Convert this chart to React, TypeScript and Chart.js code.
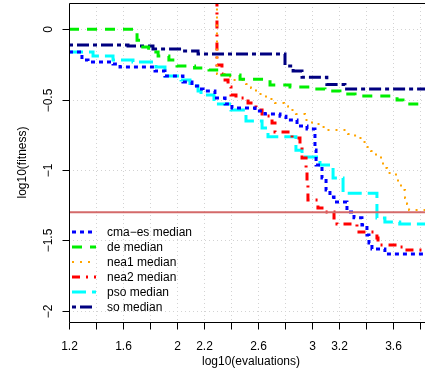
import React, { useEffect, useRef } from 'react';
import { Chart, registerables } from 'chart.js';

Chart.register(...registerables);

// ---- axis ranges and ticks ----
const X_MIN = 1.2;
const X_MAX = 3.837;
const Y_MIN = -2.08;
const Y_MAX = 0.187;

const xTicks = [1.2, 1.4, 1.6, 1.8, 2.0, 2.2, 2.4, 2.6, 2.8, 3.0, 3.2, 3.4, 3.6, 3.8];
const xTickLabels = ['1.2', '', '1.6', '', '2', '2.2', '', '2.6', '', '3', '3.2', '', '3.6', ''];
const yTicks = [0, -0.5, -1, -1.5, -2];
const yTickLabels = ['0', '\u22120.5', '\u22121', '\u22121.5', '\u22122'];
const thresholdY = -1.3;

const xTitle = 'log10(evaluations)';
const yTitle = 'log10(fitness)';

// ---- series (step medians) ----
const cmaesX = [1.2, 1.296, 1.341, 1.526, 1.578, 1.837, 1.911, 2.044, 2.111, 2.163, 2.193, 2.281, 2.356, 2.407, 2.578, 2.652, 2.763, 2.807, 2.889, 2.963, 3.022, 3.03, 3.074, 3.104, 3.133, 3.163, 3.259, 3.311, 3.37, 3.407, 3.422, 3.444, 3.54, 3.84];
const cmaesY = [-0.161, -0.218, -0.232, -0.247, -0.268, -0.296, -0.332, -0.375, -0.403, -0.424, -0.439, -0.488, -0.531, -0.559, -0.581, -0.602, -0.617, -0.645, -0.687, -0.709, -0.857, -0.964, -1.057, -1.142, -1.192, -1.227, -1.298, -1.34, -1.39, -1.462, -1.518, -1.561, -1.597, -1.597];

const deX = [1.2, 1.704, 1.73, 1.79, 1.86, 1.94, 2.0, 2.13, 2.237, 2.333, 2.467, 2.689, 2.837, 3.0, 3.096, 3.207, 3.319, 3.6, 3.63, 3.674, 3.84];
const deY = [0, -0.078, -0.126, -0.161, -0.19, -0.218, -0.26, -0.275, -0.29, -0.325, -0.355, -0.396, -0.41, -0.424, -0.439, -0.46, -0.474, -0.482, -0.503, -0.531, -0.531];

const nea1X = [2.296, 2.296, 2.393, 2.511, 2.548, 2.585, 2.659, 2.726, 2.793, 2.822, 2.881, 2.948, 3.0, 3.059, 3.111, 3.267, 3.319, 3.37, 3.4, 3.437, 3.474, 3.511, 3.526, 3.556, 3.622, 3.637, 3.659, 3.689, 3.704, 3.719, 3.84];
const nea1Y = [1.0, -0.318, -0.36, -0.389, -0.417, -0.46, -0.496, -0.524, -0.546, -0.574, -0.602, -0.645, -0.673, -0.694, -0.716, -0.744, -0.773, -0.801, -0.836, -0.865, -0.9, -0.936, -0.986, -1.021, -1.043, -1.1, -1.142, -1.199, -1.241, -1.284, -1.284];

const nea2X = [2.296, 2.296, 2.333, 2.356, 2.378, 2.4, 2.437, 2.526, 2.585, 2.6, 2.63, 2.704, 2.726, 2.852, 2.911, 2.926, 2.956, 2.963, 2.97, 3.044, 3.074, 3.163, 3.185, 3.333, 3.481, 3.489, 3.615, 3.689, 3.84];
const nea2Y = [1.0, -0.254, -0.318, -0.36, -0.41, -0.467, -0.488, -0.524, -0.552, -0.574, -0.616, -0.666, -0.73, -0.773, -0.837, -0.915, -0.986, -1.107, -1.213, -1.27, -1.298, -1.341, -1.384, -1.441, -1.483, -1.533, -1.547, -1.569, -1.569];

const psoX = [1.2, 1.378, 1.526, 1.674, 1.844, 1.911, 2.03, 2.096, 2.156, 2.178, 2.274, 2.4, 2.511, 2.63, 2.674, 2.881, 2.926, 3.059, 3.156, 3.23, 3.481, 3.54, 3.65, 3.84];
const psoY = [-0.161, -0.19, -0.218, -0.232, -0.268, -0.332, -0.36, -0.403, -0.439, -0.467, -0.531, -0.574, -0.652, -0.701, -0.763, -0.86, -0.907, -0.964, -1.057, -1.165, -1.341, -1.37, -1.384, -1.384];

const soX = [1.2, 1.637, 1.822, 2.037, 2.156, 2.8, 2.86, 2.926, 3.11, 3.244, 3.84];
const soY = [-0.112, -0.119, -0.14, -0.154, -0.176, -0.26, -0.296, -0.34, -0.392, -0.424, -0.424];

const seriesNames = ['cma\u2212es median', 'de median', 'nea1 median', 'nea2 median', 'pso median', 'so median'];
const seriesXs = [cmaesX, deX, nea1X, nea2X, psoX, soX];
const seriesYs = [cmaesY, deY, nea1Y, nea2Y, psoY, soY];

// ---- styles ----
const seriesColors = ['#0000FF', '#00EE00', '#FFA500', '#FF0000', '#00FFFF', '#000080'];
const seriesDashes = [[4, 4], [10, 8], [2, 6], [8, 6, 2, 6], [14, 6], [4, 4, 12, 4]];
const seriesWidths = [3, 3, 2, 3, 3, 3];

const FONT = '12px "Liberation Sans", Arial, Helvetica, sans-serif';

const rPlotPlugin = {
  id: 'rPlot',
  beforeDatasetsDraw(chart: any) {
    const { ctx, chartArea: a, scales } = chart;
    const xs = scales.x;
    const ys = scales.y;
    ctx.save();
    ctx.strokeStyle = '#D3D3D3';
    ctx.lineWidth = 1;
    ctx.setLineDash([1, 3]);
    xTicks.forEach((v) => {
      const px = Math.round(xs.getPixelForValue(v)) + 0.5;
      ctx.beginPath();
      ctx.moveTo(px, a.top);
      ctx.lineTo(px, a.bottom);
      ctx.stroke();
    });
    yTicks.forEach((v) => {
      const py = Math.round(ys.getPixelForValue(v)) + 0.5;
      ctx.beginPath();
      ctx.moveTo(a.left, py);
      ctx.lineTo(a.right, py);
      ctx.stroke();
    });
    ctx.restore();
  },
  afterDraw(chart: any) {
    const { ctx, chartArea: a, scales } = chart;
    const xs = scales.x;
    const ys = scales.y;
    ctx.save();
    ctx.setLineDash([]);
    ctx.strokeStyle = '#000';
    ctx.lineWidth = 1;
    const L = Math.round(a.left) + 0.5;
    const T = Math.round(a.top) + 0.5;
    const B = Math.round(a.bottom) + 0.5;
    ctx.beginPath();
    ctx.moveTo(a.right + 5, T);
    ctx.lineTo(L, T);
    ctx.lineTo(L, B);
    ctx.lineTo(a.right + 5, B);
    ctx.stroke();

    ctx.fillStyle = '#000';
    ctx.font = FONT;
    // x ticks
    ctx.textAlign = 'center';
    ctx.textBaseline = 'alphabetic';
    xTicks.forEach((v, i) => {
      const px = Math.round(xs.getPixelForValue(v)) + 0.5;
      ctx.beginPath();
      ctx.moveTo(px, B);
      ctx.lineTo(px, B + 7);
      ctx.stroke();
      if (xTickLabels[i]) ctx.fillText(xTickLabels[i], px, a.bottom + 28);
    });
    // y ticks
    yTicks.forEach((v, i) => {
      const py = Math.round(ys.getPixelForValue(v)) + 0.5;
      ctx.beginPath();
      ctx.moveTo(L, py);
      ctx.lineTo(L - 7, py);
      ctx.stroke();
      ctx.save();
      ctx.translate(a.left - 17, py);
      ctx.rotate(-Math.PI / 2);
      ctx.textAlign = 'center';
      ctx.fillText(yTickLabels[i], 0, 0);
      ctx.restore();
    });
    // titles
    ctx.textAlign = 'center';
    ctx.fillText(xTitle, 251, a.bottom + 43);
    ctx.save();
    ctx.translate(26, (a.top + a.bottom) / 2);
    ctx.rotate(-Math.PI / 2);
    ctx.fillText(yTitle, 0, 0);
    ctx.restore();

    // legend
    ctx.textAlign = 'left';
    ctx.textBaseline = 'middle';
    seriesNames.forEach((name, i) => {
      const yy = 232 + i * 15;
      ctx.save();
      ctx.strokeStyle = seriesColors[i];
      ctx.lineWidth = seriesWidths[i];
      ctx.setLineDash(seriesDashes[i]);
      ctx.beginPath();
      ctx.moveTo(a.left + 3, yy);
      ctx.lineTo(a.left + 27, yy);
      ctx.stroke();
      ctx.restore();
      ctx.fillStyle = '#000';
      ctx.fillText(name, a.left + 38, yy + 1);
    });
    ctx.restore();
  },
};

export default function App() {
  const ref = useRef<HTMLCanvasElement | null>(null);
  useEffect(() => {
    document.body.style.margin = '0';
    if (!ref.current) return;
    const datasets: any[] = seriesNames.map((name, i) => ({
      label: name,
      data: seriesXs[i].map((x, j) => ({ x, y: seriesYs[i][j] })),
      borderColor: seriesColors[i],
      borderWidth: seriesWidths[i],
      borderDash: seriesDashes[i],
      stepped: 'before',
      pointRadius: 0,
      fill: false,
      tension: 0,
      order: i + 1,
    }));
    datasets.push({
      label: 'threshold',
      data: [{ x: X_MIN, y: thresholdY }, { x: X_MAX, y: thresholdY }],
      borderColor: '#D46A6A',
      borderWidth: 2,
      pointRadius: 0,
      fill: false,
      order: 0,
    });
    const chart = new Chart(ref.current, {
      type: 'line',
      data: { datasets },
      options: {
        animation: false,
        responsive: false,
        maintainAspectRatio: false,
        devicePixelRatio: 1,
        events: [],
        layout: { padding: { left: 69, top: 3, right: 0, bottom: 54 } },
        scales: {
          x: { type: 'linear', min: X_MIN, max: X_MAX, display: false },
          y: { type: 'linear', min: Y_MIN, max: Y_MAX, display: false },
        },
        plugins: { legend: { display: false }, tooltip: { enabled: false }, title: { display: false } },
      } as any,
      plugins: [rPlotPlugin],
    });
    return () => chart.destroy();
  }, []);
  return (
    <div style={{ position: 'absolute', left: 0, top: 0, width: 425, height: 376, background: '#fff' }}>
      <canvas ref={ref} width={425} height={376} style={{ width: 425, height: 376, display: 'block' }} />
    </div>
  );
}
